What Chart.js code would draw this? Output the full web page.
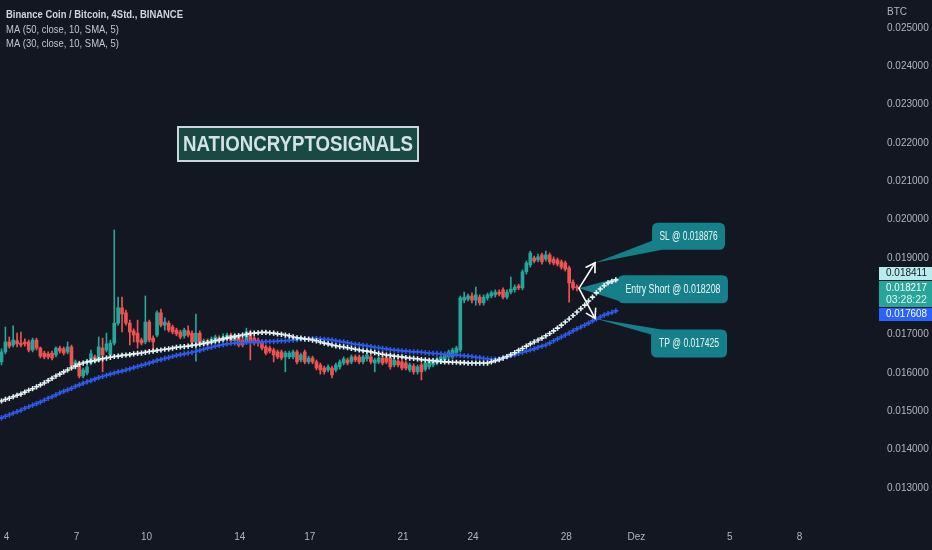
<!DOCTYPE html>
<html>
<head>
<meta charset="utf-8">
<script src="https://cdn.jsdelivr.net/npm/chart.js"></script>
<style>
  html, body { margin: 0; padding: 0; background: #131722; }
  #wrap { position: relative; width: 932px; height: 550px; }
</style>
</head>
<body>
<div id="wrap"><canvas id="bnb-chart"></canvas></div>
<script>
// BNB/BTC, 4h candles, first candle on day 3.786 of November
const startDay = 3.786;
const candlesPerDay = 6;

const opens = [
  0.01629, 0.01655, 0.01681, 0.01673, 0.01684, 0.01678, 0.01681, 0.01681, 0.01660, 0.01686,
  0.01665, 0.01652, 0.01650, 0.01652, 0.01647, 0.01665, 0.01663, 0.01655, 0.01668, 0.01618,
  0.01626, 0.01592, 0.01600, 0.01626, 0.01642, 0.01634, 0.01665, 0.01660, 0.01647, 0.01678,
  0.01730, 0.01770, 0.01757, 0.01730, 0.01710, 0.01704, 0.01686, 0.01681, 0.01733, 0.01691,
  0.01699, 0.01757, 0.01725, 0.01730, 0.01720, 0.01712, 0.01707, 0.01697, 0.01710, 0.01704,
  0.01681, 0.01704, 0.01676, 0.01684, 0.01681, 0.01684, 0.01691, 0.01684, 0.01691, 0.01699,
  0.01684, 0.01697, 0.01686, 0.01681, 0.01704, 0.01691, 0.01686, 0.01681, 0.01668, 0.01665,
  0.01660, 0.01655, 0.01655, 0.01642, 0.01642, 0.01642, 0.01655, 0.01634, 0.01655, 0.01629,
  0.01639, 0.01629, 0.01621, 0.01613, 0.01608, 0.01613, 0.01608, 0.01616, 0.01626, 0.01634,
  0.01629, 0.01642, 0.01642, 0.01629, 0.01637, 0.01642, 0.01626, 0.01629, 0.01639, 0.01639,
  0.01639, 0.01621, 0.01631, 0.01629, 0.01626, 0.01608, 0.01618, 0.01603, 0.01621, 0.01610,
  0.01616, 0.01621, 0.01626, 0.01629, 0.01634, 0.01642, 0.01642, 0.01652, 0.01660, 0.01790,
  0.01793, 0.01801, 0.01790, 0.01798, 0.01783, 0.01796, 0.01801, 0.01804, 0.01811, 0.01817,
  0.01798, 0.01811, 0.01817, 0.01827, 0.01822, 0.01864, 0.01882, 0.01900, 0.01895, 0.01908,
  0.01897, 0.01908, 0.01897, 0.01895, 0.01890, 0.01887, 0.01874, 0.01837, 0.01824
];
const highs = [
  0.01663, 0.01720, 0.01694, 0.01723, 0.01704, 0.01707, 0.01689, 0.01686, 0.01691, 0.01691,
  0.01668, 0.01657, 0.01655, 0.01657, 0.01668, 0.01670, 0.01668, 0.01681, 0.01673, 0.01634,
  0.01631, 0.01613, 0.01634, 0.01660, 0.01647, 0.01694, 0.01691, 0.01704, 0.01686, 0.01973,
  0.01798, 0.01798, 0.01764, 0.01738, 0.01715, 0.01738, 0.01691, 0.01801, 0.01738, 0.01697,
  0.01762, 0.01767, 0.01744, 0.01736, 0.01725, 0.01717, 0.01712, 0.01717, 0.01723, 0.01710,
  0.01754, 0.01710, 0.01689, 0.01689, 0.01694, 0.01699, 0.01697, 0.01702, 0.01704, 0.01704,
  0.01704, 0.01702, 0.01691, 0.01717, 0.01712, 0.01697, 0.01691, 0.01686, 0.01673, 0.01670,
  0.01665, 0.01660, 0.01660, 0.01657, 0.01657, 0.01660, 0.01660, 0.01652, 0.01660, 0.01644,
  0.01644, 0.01634, 0.01626, 0.01618, 0.01621, 0.01618, 0.01626, 0.01634, 0.01642, 0.01639,
  0.01647, 0.01647, 0.01647, 0.01647, 0.01652, 0.01647, 0.01639, 0.01644, 0.01644, 0.01644,
  0.01644, 0.01639, 0.01637, 0.01634, 0.01631, 0.01626, 0.01624, 0.01621, 0.01626, 0.01631,
  0.01634, 0.01639, 0.01642, 0.01647, 0.01652, 0.01660, 0.01665, 0.01670, 0.01801, 0.01811,
  0.01806, 0.01809, 0.01824, 0.01804, 0.01804, 0.01809, 0.01814, 0.01817, 0.01817, 0.01822,
  0.01817, 0.01850, 0.01830, 0.01832, 0.01869, 0.01892, 0.01918, 0.01905, 0.01910, 0.01913,
  0.01918, 0.01913, 0.01903, 0.01900, 0.01895, 0.01892, 0.01879, 0.01843, 0.01830
];
const lows = [
  0.01621, 0.01650, 0.01665, 0.01668, 0.01668, 0.01668, 0.01670, 0.01655, 0.01655, 0.01660,
  0.01639, 0.01637, 0.01637, 0.01634, 0.01642, 0.01652, 0.01647, 0.01650, 0.01613, 0.01610,
  0.01587, 0.01587, 0.01595, 0.01621, 0.01629, 0.01629, 0.01603, 0.01655, 0.01642, 0.01673,
  0.01725, 0.01707, 0.01725, 0.01673, 0.01681, 0.01665, 0.01673, 0.01676, 0.01681, 0.01660,
  0.01694, 0.01720, 0.01712, 0.01707, 0.01702, 0.01697, 0.01689, 0.01691, 0.01694, 0.01676,
  0.01631, 0.01673, 0.01670, 0.01668, 0.01676, 0.01678, 0.01678, 0.01678, 0.01686, 0.01678,
  0.01678, 0.01668, 0.01668, 0.01676, 0.01634, 0.01673, 0.01670, 0.01660, 0.01647, 0.01652,
  0.01629, 0.01637, 0.01634, 0.01603, 0.01637, 0.01637, 0.01624, 0.01629, 0.01624, 0.01624,
  0.01624, 0.01608, 0.01597, 0.01597, 0.01603, 0.01587, 0.01603, 0.01610, 0.01621, 0.01621,
  0.01624, 0.01629, 0.01624, 0.01624, 0.01631, 0.01624, 0.01603, 0.01624, 0.01621, 0.01624,
  0.01610, 0.01616, 0.01616, 0.01608, 0.01608, 0.01603, 0.01597, 0.01597, 0.01582, 0.01605,
  0.01610, 0.01616, 0.01621, 0.01624, 0.01629, 0.01637, 0.01637, 0.01647, 0.01655, 0.01783,
  0.01788, 0.01783, 0.01777, 0.01777, 0.01777, 0.01790, 0.01796, 0.01798, 0.01801, 0.01793,
  0.01793, 0.01806, 0.01811, 0.01817, 0.01817, 0.01858, 0.01876, 0.01887, 0.01890, 0.01884,
  0.01892, 0.01884, 0.01882, 0.01879, 0.01871, 0.01866, 0.01785, 0.01817, 0.01814
];
const closes = [
  0.01655, 0.01681, 0.01670, 0.01686, 0.01676, 0.01673, 0.01676, 0.01660, 0.01686, 0.01665,
  0.01644, 0.01642, 0.01642, 0.01639, 0.01665, 0.01657, 0.01652, 0.01668, 0.01618, 0.01629,
  0.01592, 0.01608, 0.01616, 0.01650, 0.01634, 0.01668, 0.01647, 0.01676, 0.01678, 0.01730,
  0.01770, 0.01754, 0.01730, 0.01707, 0.01699, 0.01681, 0.01678, 0.01733, 0.01686, 0.01681,
  0.01757, 0.01725, 0.01733, 0.01712, 0.01707, 0.01702, 0.01694, 0.01712, 0.01699, 0.01681,
  0.01704, 0.01678, 0.01684, 0.01676, 0.01689, 0.01694, 0.01684, 0.01694, 0.01699, 0.01684,
  0.01699, 0.01673, 0.01673, 0.01707, 0.01681, 0.01678, 0.01678, 0.01665, 0.01652, 0.01657,
  0.01647, 0.01642, 0.01639, 0.01652, 0.01652, 0.01655, 0.01629, 0.01647, 0.01629, 0.01639,
  0.01629, 0.01613, 0.01608, 0.01603, 0.01616, 0.01595, 0.01621, 0.01629, 0.01637, 0.01626,
  0.01642, 0.01634, 0.01629, 0.01642, 0.01647, 0.01629, 0.01634, 0.01639, 0.01626, 0.01629,
  0.01616, 0.01634, 0.01621, 0.01613, 0.01613, 0.01621, 0.01603, 0.01616, 0.01603, 0.01626,
  0.01629, 0.01634, 0.01637, 0.01642, 0.01647, 0.01655, 0.01660, 0.01665, 0.01796, 0.01798,
  0.01801, 0.01790, 0.01804, 0.01783, 0.01798, 0.01804, 0.01809, 0.01811, 0.01806, 0.01798,
  0.01811, 0.01819, 0.01824, 0.01822, 0.01864, 0.01887, 0.01913, 0.01892, 0.01903, 0.01890,
  0.01908, 0.01890, 0.01887, 0.01884, 0.01876, 0.01871, 0.01835, 0.01822, 0.01822
];

// MA (50, close, 10, SMA, 5) - white, drawn 10 bars ahead
const ma50 = [
  0.01527, 0.01531, 0.01534, 0.01538, 0.01542, 0.01545, 0.01550, 0.01555, 0.01559, 0.01564,
  0.01569, 0.01574, 0.01580, 0.01586, 0.01592, 0.01597, 0.01603, 0.01608, 0.01613, 0.01618,
  0.01623, 0.01626, 0.01629, 0.01631, 0.01632, 0.01635, 0.01637, 0.01639, 0.01641, 0.01643,
  0.01644, 0.01646, 0.01647, 0.01648, 0.01650, 0.01651, 0.01652, 0.01654, 0.01656, 0.01657,
  0.01659, 0.01660, 0.01662, 0.01663, 0.01665, 0.01667, 0.01668, 0.01669, 0.01670, 0.01672,
  0.01673, 0.01675, 0.01677, 0.01679, 0.01681, 0.01684, 0.01686, 0.01689, 0.01691, 0.01693,
  0.01695, 0.01697, 0.01699, 0.01701, 0.01703, 0.01704, 0.01705, 0.01706, 0.01706, 0.01705,
  0.01704, 0.01702, 0.01701, 0.01699, 0.01697, 0.01694, 0.01692, 0.01691, 0.01689, 0.01688,
  0.01686, 0.01684, 0.01681, 0.01678, 0.01676, 0.01673, 0.01671, 0.01669, 0.01668, 0.01666,
  0.01664, 0.01662, 0.01660, 0.01658, 0.01657, 0.01655, 0.01653, 0.01651, 0.01649, 0.01647,
  0.01646, 0.01644, 0.01643, 0.01642, 0.01640, 0.01639, 0.01638, 0.01637, 0.01635, 0.01634,
  0.01633, 0.01632, 0.01631, 0.01630, 0.01629, 0.01629, 0.01628, 0.01628, 0.01627, 0.01627,
  0.01626, 0.01626, 0.01626, 0.01626, 0.01626, 0.01626, 0.01629, 0.01632, 0.01635, 0.01639,
  0.01643, 0.01648, 0.01653, 0.01659, 0.01664, 0.01670, 0.01676, 0.01681, 0.01686, 0.01691,
  0.01697, 0.01703, 0.01710, 0.01717, 0.01725, 0.01733, 0.01741, 0.01750, 0.01759, 0.01768,
  0.01777, 0.01788, 0.01798, 0.01809, 0.01819, 0.01828, 0.01835, 0.01839, 0.01843
];
// MA (30, close, 10, SMA, 5) - blue
const ma30 = [
  0.01483, 0.01487, 0.01491, 0.01495, 0.01499, 0.01503, 0.01508, 0.01512, 0.01516, 0.01520,
  0.01524, 0.01529, 0.01534, 0.01538, 0.01543, 0.01548, 0.01552, 0.01556, 0.01560, 0.01565,
  0.01569, 0.01573, 0.01577, 0.01580, 0.01584, 0.01588, 0.01591, 0.01594, 0.01597, 0.01600,
  0.01603, 0.01605, 0.01608, 0.01611, 0.01614, 0.01617, 0.01620, 0.01623, 0.01626, 0.01629,
  0.01633, 0.01635, 0.01638, 0.01640, 0.01643, 0.01646, 0.01648, 0.01650, 0.01652, 0.01654,
  0.01656, 0.01659, 0.01662, 0.01665, 0.01667, 0.01670, 0.01672, 0.01674, 0.01676, 0.01677,
  0.01678, 0.01679, 0.01679, 0.01680, 0.01680, 0.01681, 0.01681, 0.01681, 0.01682, 0.01682,
  0.01682, 0.01683, 0.01684, 0.01684, 0.01685, 0.01686, 0.01687, 0.01688, 0.01688, 0.01689,
  0.01690, 0.01690, 0.01689, 0.01688, 0.01687, 0.01686, 0.01684, 0.01682, 0.01681, 0.01679,
  0.01677, 0.01675, 0.01674, 0.01672, 0.01671, 0.01669, 0.01667, 0.01666, 0.01664, 0.01663,
  0.01661, 0.01660, 0.01659, 0.01658, 0.01657, 0.01656, 0.01655, 0.01655, 0.01654, 0.01653,
  0.01652, 0.01651, 0.01651, 0.01650, 0.01649, 0.01648, 0.01647, 0.01647, 0.01646, 0.01645,
  0.01644, 0.01643, 0.01641, 0.01640, 0.01638, 0.01637, 0.01636, 0.01636, 0.01637, 0.01639,
  0.01642, 0.01645, 0.01648, 0.01651, 0.01654, 0.01657, 0.01660, 0.01663, 0.01667, 0.01670,
  0.01673, 0.01678, 0.01684, 0.01689, 0.01694, 0.01699, 0.01704, 0.01710, 0.01715, 0.01720,
  0.01725, 0.01730, 0.01736, 0.01741, 0.01746, 0.01751, 0.01755, 0.01758, 0.01762
];

const yTicks = [0.013, 0.014, 0.015, 0.016, 0.017, 0.018, 0.019, 0.020, 0.021, 0.022, 0.023, 0.024, 0.025];
const xTickDays = [4, 7, 10, 14, 17, 21, 24, 28, 31, 35, 38];
const xTickLabels = ['4', '7', '10', '14', '17', '21', '24', '28', 'Dez', '5', '8'];

// trade idea
const entryPrice = 0.018208, stopLoss = 0.018876, takeProfit = 0.017425;
const entryDay = 28.54, targetDay = 29.23;

// last values on the price scale
const lastMa50 = 0.018411, lastClose = 0.018217, lastMa30 = 0.017608;
const countdown = '03:28:22';

const UP = '#26a69a', DOWN = '#ef5350';
const AXIS_TEXT = '#b2b5be';
const FONT = "'Liberation Sans', Arial, sans-serif";

const candleDay = i => startDay + i / candlesPerDay;
const candleColor = ctx => closes[ctx.dataIndex] >= opens[ctx.dataIndex] ? UP : DOWN;

function fitText(ctx, text, x, y, maxW) {
  const w = ctx.measureText(text).width;
  const s = w > maxW ? maxW / w : 1;
  ctx.save();
  ctx.translate(x, y);
  ctx.scale(s, 1);
  ctx.fillText(text, 0, 0);
  ctx.restore();
}

function roundRect(ctx, x, y, w, h, r) {
  ctx.beginPath();
  ctx.moveTo(x + r, y);
  ctx.lineTo(x + w - r, y);
  ctx.quadraticCurveTo(x + w, y, x + w, y + r);
  ctx.lineTo(x + w, y + h - r);
  ctx.quadraticCurveTo(x + w, y + h, x + w - r, y + h);
  ctx.lineTo(x + r, y + h);
  ctx.quadraticCurveTo(x, y + h, x, y + h - r);
  ctx.lineTo(x, y + r);
  ctx.quadraticCurveTo(x, y, x + r, y);
  ctx.closePath();
}

function arrow(ctx, x1, y1, x2, y2) {
  ctx.beginPath();
  ctx.moveTo(x1, y1);
  ctx.lineTo(x2, y2);
  ctx.stroke();
  const a = Math.atan2(y2 - y1, x2 - x1), len = 10, spread = 0.55;
  ctx.beginPath();
  ctx.moveTo(x2 - len * Math.cos(a - spread), y2 - len * Math.sin(a - spread));
  ctx.lineTo(x2, y2);
  ctx.lineTo(x2 - len * Math.cos(a + spread), y2 - len * Math.sin(a + spread));
  ctx.stroke();
}

const CALLOUT = '#16808a';

// teal speech boxes: tails and boxes go under the MA crosses
function calloutBody(ctx, tail, box) {
  ctx.fillStyle = CALLOUT;
  ctx.beginPath();
  ctx.moveTo(tail[0][0], tail[0][1]);
  ctx.lineTo(tail[1][0], tail[1][1]);
  ctx.lineTo(tail[2][0], tail[2][1]);
  ctx.closePath();
  ctx.fill();
  roundRect(ctx, box.x, box.y, box.w, box.h, 6);
  ctx.fill();
}

function tradePoints(chart) {
  const xs = chart.scales.x, ys = chart.scales.y;
  return {
    e: { x: xs.getPixelForValue(entryDay), y: ys.getPixelForValue(entryPrice) },
    sl: { x: xs.getPixelForValue(targetDay), y: ys.getPixelForValue(stopLoss) },
    tp: { x: xs.getPixelForValue(targetDay), y: ys.getPixelForValue(takeProfit) }
  };
}

function calloutBoxes(p) {
  return {
    sl: { x: p.sl.x + 57, y: p.sl.y - 40, w: 73, h: 27 },
    e: { x: p.e.x + 39, y: p.e.y - 13, w: 110, h: 28 },
    tp: { x: p.tp.x + 56, y: p.tp.y + 11, w: 76, h: 28 }
  };
}

const overlay = {
  id: 'overlay',
  beforeDraw(chart) {
    const ctx = chart.ctx;
    ctx.save();
    ctx.fillStyle = '#131722';
    ctx.fillRect(0, 0, chart.width, chart.height);
    ctx.restore();
  },
  beforeDatasetsDraw(chart) {
    const ctx = chart.ctx;
    const p = tradePoints(chart), b = calloutBoxes(p);
    ctx.save();
    calloutBody(ctx, [[p.sl.x, p.sl.y], [b.sl.x, b.sl.y + 18], [b.sl.x + 10, b.sl.y + b.sl.h]], b.sl);
    calloutBody(ctx, [[p.e.x, p.e.y], [b.e.x + 2, b.e.y + 2], [b.e.x + 2, b.e.y + b.e.h - 2]], b.e);
    calloutBody(ctx, [[p.tp.x, p.tp.y], [b.tp.x, b.tp.y + 5], [b.tp.x + 10, b.tp.y]], b.tp);
    ctx.restore();
  },
  afterDatasetsDraw(chart) {
    const ctx = chart.ctx;
    const p = tradePoints(chart), b = calloutBoxes(p);
    ctx.save();
    ctx.fillStyle = '#eef5f5';
    ctx.font = '12px ' + FONT;
    ctx.textAlign = 'center';
    ctx.textBaseline = 'middle';
    fitText(ctx, 'SL @ 0.018876', b.sl.x + b.sl.w / 2, b.sl.y + b.sl.h / 2, 58);
    fitText(ctx, 'Entry Short @ 0.018208', b.e.x + b.e.w / 2, b.e.y + b.e.h / 2, 95);
    fitText(ctx, 'TP @ 0.017425', b.tp.x + b.tp.w / 2, b.tp.y + b.tp.h / 2, 60);

    ctx.strokeStyle = '#ffffff';
    ctx.lineWidth = 1.6;
    ctx.lineCap = 'round';
    arrow(ctx, p.e.x, p.e.y, p.sl.x, p.sl.y);
    arrow(ctx, p.e.x, p.e.y, p.tp.x, p.tp.y);
    ctx.restore();
  },
  afterDraw(chart) {
    const ctx = chart.ctx;
    const ys = chart.scales.y;
    ctx.save();
    ctx.textBaseline = 'middle';
    ctx.textAlign = 'left';

    // legend text, top left
    ctx.fillStyle = '#d1d4dc';
    ctx.font = 'bold 11px ' + FONT;
    fitText(ctx, 'Binance Coin / Bitcoin, 4Std., BINANCE', 6, 15, 177);
    ctx.fillStyle = '#c3c6ce';
    ctx.font = '11px ' + FONT;
    fitText(ctx, 'MA (50, close, 10, SMA, 5)', 6, 29.5, 113);
    fitText(ctx, 'MA (30, close, 10, SMA, 5)', 6, 44, 113);

    ctx.fillStyle = AXIS_TEXT;
    ctx.font = '10px ' + FONT;
    ctx.fillText('BTC', 887, 12);

    // watermark style box
    ctx.fillStyle = '#184a43';
    ctx.fillRect(177, 126, 242, 36);
    ctx.strokeStyle = '#c9d7da';
    ctx.lineWidth = 2;
    ctx.strokeRect(178, 127, 240, 34);
    ctx.fillStyle = '#d3e2e5';
    ctx.font = 'bold 22px ' + FONT;
    ctx.textAlign = 'center';
    fitText(ctx, 'NATIONCRYPTOSIGNALS', 298, 145, 230);

    // price scale labels
    const lx = 879, lw = 53;
    const yc = ys.getPixelForValue(lastClose);
    const gTop = yc - 7, gBot = yc + 19;
    const cyBot = Math.min(ys.getPixelForValue(lastMa50) + 6.5, gTop - 1);
    const bTop = Math.max(ys.getPixelForValue(lastMa30) - 6.5, gBot + 1);

    ctx.font = '10.5px ' + FONT;
    ctx.textAlign = 'left';
    ctx.fillStyle = '#b9ecee';
    ctx.fillRect(lx, cyBot - 13, lw, 13);
    ctx.fillStyle = '#131722';
    fitText(ctx, lastMa50.toFixed(6), 886, cyBot - 6.5, 41);

    ctx.fillStyle = UP;
    ctx.fillRect(lx, gTop, lw, gBot - gTop);
    ctx.fillStyle = '#ffffff';
    fitText(ctx, lastClose.toFixed(6), 886, yc, 41);
    ctx.fillStyle = '#dff5f1';
    fitText(ctx, countdown, 886, yc + 12.5, 41);

    ctx.fillStyle = '#2962ff';
    ctx.fillRect(lx, bTop, lw, 13);
    ctx.fillStyle = '#ffffff';
    fitText(ctx, lastMa30.toFixed(6), 886, bTop + 6.5, 41);
    ctx.restore();
  }
};

const wickData = highs.map((h, i) => ({ x: candleDay(i), y: [lows[i], h] }));
const bodyData = opens.map((o, i) => ({ x: candleDay(i), y: [o, closes[i]] }));
const ma50Data = ma50.map((v, i) => ({ x: candleDay(i), y: v }));
const ma30Data = ma30.map((v, i) => ({ x: candleDay(i), y: v }));

const bnb_context = document.getElementById('bnb-chart');
const bnb_chart = new Chart(bnb_context, {
  type: 'bar',
  data: {
    datasets: [
      {
        type: 'line', label: 'MA 50', data: ma50Data, showLine: false, order: 0,
        pointStyle: 'cross', pointRadius: 2.6, pointBorderWidth: 1.6,
        pointBorderColor: '#e3f4f3', pointBackgroundColor: '#e3f4f3'
      },
      {
        type: 'line', label: 'MA 30', data: ma30Data, showLine: false, order: 0,
        pointStyle: 'cross', pointRadius: 2.6, pointBorderWidth: 1.6,
        pointBorderColor: '#2f5cf0', pointBackgroundColor: '#2f5cf0'
      },
      {
        label: 'body', data: bodyData, order: 1, grouped: false,
        barThickness: 3, minBarLength: 1, borderWidth: 0,
        backgroundColor: candleColor
      },
      {
        label: 'wick', data: wickData, order: 2, grouped: false,
        barThickness: 1, borderWidth: 0,
        backgroundColor: candleColor
      }
    ]
  },
  options: {
    responsive: true,
    maintainAspectRatio: false,
    animation: false,
    layout: { padding: 0, autoPadding: false },
    plugins: { legend: { display: false }, tooltip: { enabled: false } },
    scales: {
      x: {
        type: 'linear', min: 3.7214, max: 40.93, offset: false,
        grid: { display: false, drawTicks: false }, border: { display: false },
        ticks: {
          color: AXIS_TEXT, font: { family: FONT, size: 10 }, padding: 11,
          maxRotation: 0, autoSkip: false,
          callback: (v, i) => xTickLabels[i]
        },
        afterBuildTicks: s => { s.ticks = xTickDays.map(v => ({ value: v })); },
        afterFit: s => { s.height = 30; s.paddingLeft = 0; s.paddingRight = 0; }
      },
      y: {
        position: 'right', min: 0.0121653, max: 0.0257304,
        grid: { display: false, drawTicks: false }, border: { display: false },
        ticks: {
          color: AXIS_TEXT, font: { family: FONT, size: 10 }, padding: 19,
          callback: v => v.toFixed(6)
        },
        afterBuildTicks: s => { s.ticks = yTicks.map(v => ({ value: v })); },
        afterFit: s => { s.width = 64; s.paddingTop = 0; s.paddingBottom = 0; }
      }
    }
  },
  plugins: [overlay]
});
</script>
</body>
</html>
